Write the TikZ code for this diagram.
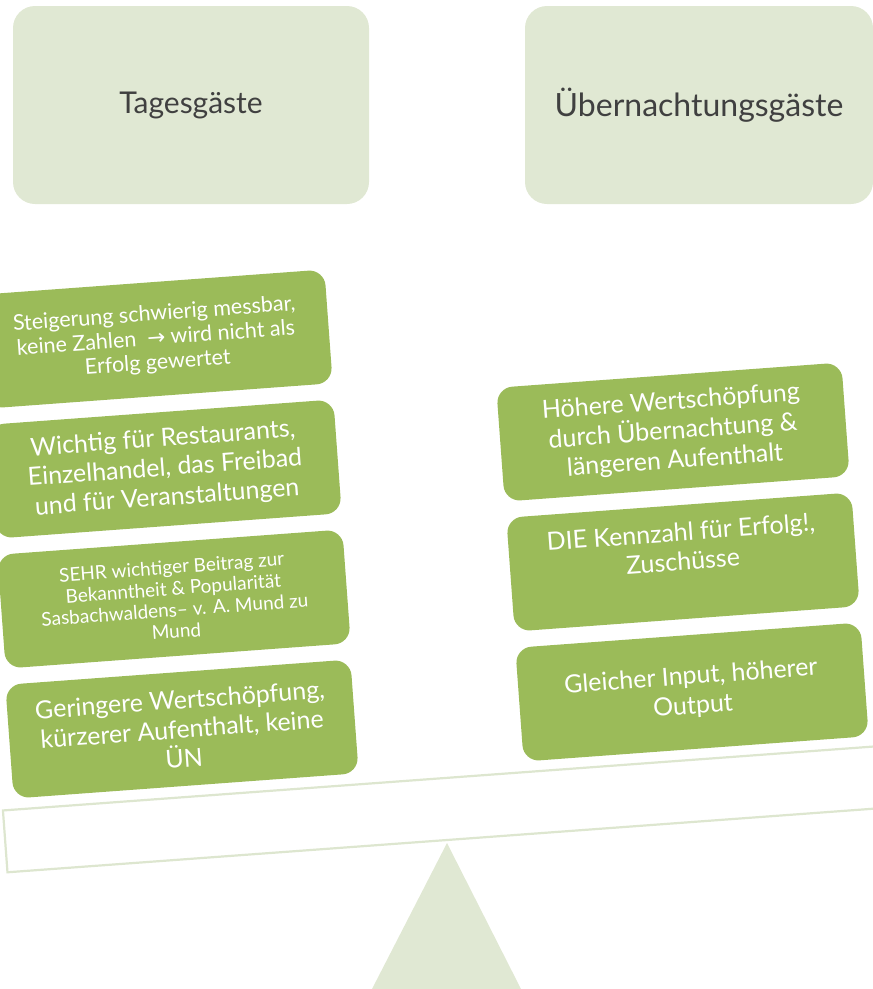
\documentclass[tikz,border=0pt]{standalone}
\usepackage{fontspec}
\setmainfont{Lato}
\newfontfamily\symf{DejaVu Sans}
\definecolor{pale}{HTML}{E0E8D3}
\definecolor{beamline}{HTML}{DDE6CF}
\definecolor{leaf}{HTML}{9BBB59}
\definecolor{headtext}{HTML}{404040}
\tikzset{
  headbox/.style={fill=pale, rounded corners=22pt, minimum width=356pt, minimum height=198pt,
    text=headtext, font=\fontsize{30}{35}\selectfont, inner sep=0pt},
  itembox/.style={fill=leaf, rounded corners=16pt, minimum width=346pt, minimum height=114pt,
    text=white, align=center, rotate=4.2, inner sep=0pt},
  bigtxt/.style={font=\fontsize{25}{29.5}\selectfont},
  midtxt/.style={font=\fontsize{21.5}{24.5}\selectfont},
  smalltxt/.style={font=\fontsize{19}{21.5}\selectfont},
}
\begin{document}
\begin{tikzpicture}[x=1pt,y=-1pt]
\useasboundingbox (0,0) rectangle (873,989);
\clip (0,0) rectangle (873,989);
% headers
\node[headbox] (tg) at (191,105) {Tagesgäste};
\node[headbox, minimum width=348pt, font=\fontsize{32}{37}\selectfont] (ug) at (699,105) {Übernachtungsgäste};
% fulcrum
\coordinate (apex) at (447,843);
\coordinate (bl) at (372,989);
\coordinate (br) at (521,989);
\fill[pale] (apex) -- (br) -- (bl) -- cycle;
% beam
\node[draw=beamline, line width=2.2pt, fill=white, minimum width=884pt, minimum height=62pt,
  rotate=4.2, inner sep=0pt] (beam) at (446,809) {};
% left items
\node[itembox, midtxt] (l1) at (156,339) {Steigerung schwierig messbar,\\keine Zahlen \ {\symf →} wird nicht als\\Erfolg gewertet};
\node[itembox, bigtxt] (l2) at (165,469) {Wichtig für Restaurants,\\Einzelhandel, das Freibad\\und für Veranstaltungen};
\node[itembox, smalltxt] (l3) at (174,599) {SEHR wichtiger Beitrag zur\\Bekanntheit \& Popularität\\Sasbachwaldens– v. A. Mund zu\\Mund};
\node[itembox, bigtxt] (l4) at (182,729) {Geringere Wertschöpfung,\\kürzerer Aufenthalt, keine\\ÜN};
% right items
\node[itembox, bigtxt] (r1) at (673,432) {Höhere Wertschöpfung\\durch Übernachtung \&\\längeren Aufenthalt};
\node[itembox, bigtxt] (r2) at (683,562) {DIE Kennzahl für Erfolg!,\\Zuschüsse\\[2pt]};
\node[itembox, bigtxt] (r3) at (692,692) {Gleicher Input, höherer\\Output};
\end{tikzpicture}
\end{document}
